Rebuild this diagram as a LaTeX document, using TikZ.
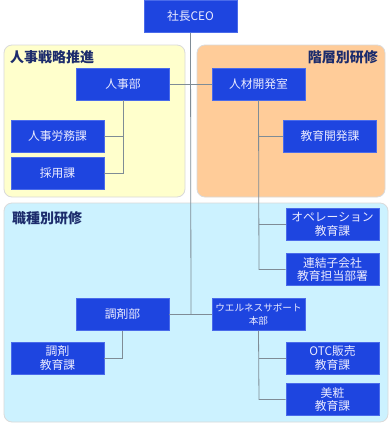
\documentclass[tikz,border=0pt]{standalone}
\usepackage{fontspec}
\setmainfont{Noto Sans CJK JP}
\definecolor{boxblue}{HTML}{1E45E0}
\definecolor{boxedge}{HTML}{4A6BEA}
\definecolor{linegray}{HTML}{7F8C96}
\definecolor{panelyellow}{HTML}{FFFFCC}
\definecolor{panelorange}{HTML}{FFCC99}
\definecolor{panelblue}{HTML}{CCF2FF}
\definecolor{paneledge}{HTML}{DADADA}
\definecolor{headnavy}{HTML}{1C2C6C}
\tikzset{
  unit/.style={draw=boxedge, line width=0.6pt, fill=boxblue, text=white!92!blue,
    minimum width=93pt, minimum height=32pt, inner sep=0pt, align=center,
    font=\fontsize{11.8}{13.3}\selectfont},
  panel/.style={draw=paneledge, line width=0.8pt, rounded corners=8pt},
  heading/.style={text=headnavy, inner sep=0pt, font=\fontsize{14}{16}\selectfont\bfseries},
  link/.style={draw=linegray, line width=0.8pt}
}
\begin{document}
\begin{tikzpicture}[x=1pt, y=-1pt]
			\useasboundingbox[fill=white] (0,0) rectangle (391,424);
			
			% Panels
			\draw[panel, fill=panelyellow] (4,45) rectangle (185,197);
			\draw[panel, fill=panelorange] (197,45) rectangle (385,197);
			\draw[panel, fill=panelblue] (4,203) rectangle (388,422);
			
			% Panel headings
			\node[heading, anchor=west] (hrsenryaku) at (10,57) {人事戦略推進};
			\node[heading, anchor=east] (kaiso) at (378,57) {階層別研修};
			\node[heading, anchor=west] (shokushu) at (12,218) {職種別研修};
			
			% Units
			\node[unit] (ceo) at (190.5,16.5) {社長CEO};
			\node[unit] (jinji) at (123,84) {人事部};
			\node[unit] (jinzai) at (258.5,84) {人材開発室};
			\node[unit] (romu) at (57.5,136.5) {人事労務課};
			\node[unit] (saiyo) at (57.5,173) {採用課};
			\node[unit] (kyoiku) at (330,136) {教育開発課};
			\node[unit] (ope) at (332.5,224.5) {オペレーション\\教育課};
			\node[unit] (renketsu) at (332.5,269.5) {連結子会社\\教育担当部署};
			\node[unit] (chozai) at (122.5,314.5) {調剤部};
			\node[unit, font=\fontsize{9.6}{13.3}\selectfont] (wellness) at (258.5,314.5) {ウエルネスサポート\\本部};
			\node[unit] (chozaikyo) at (57.5,358) {調剤\\教育課};
			\node[unit] (otc) at (332.5,358) {OTC販売\\教育課};
			\node[unit] (bisho) at (332.5,399.5) {美粧\\教育課};
			
			% Trunk and branch points
			\coordinate (trunk2) at (191,314.5);
			\coordinate (jA) at (123,136.5);
			\coordinate (jB) at (123,173);
			\coordinate (kA) at (259,136);
			\coordinate (kB) at (259,224.5);
			\coordinate (kC) at (259,269.5);
			\coordinate (cA) at (122.5,358);
			\coordinate (wA) at (259,358);
			\coordinate (wB) at (259,399.5);
			
			% Connectors
			\draw[link] (ceo.south) -- (trunk2);
			\draw[link] (jinji.east) -- (jinzai.west);
			\draw[link] (chozai.east) -- (wellness.west);
			\draw[link] (jinji.south) -- (jB) -- (saiyo.east);
			\draw[link] (jA) -- (romu.east);
			\draw[link] (jinzai.south) -- (kC) -- (renketsu.west);
			\draw[link] (kA) -- (kyoiku.west);
			\draw[link] (kB) -- (ope.west);
			\draw[link] (chozai.south) -- (cA) -- (chozaikyo.east);
			\draw[link] (wellness.south) -- (wB) -- (bisho.west);
			\draw[link] (wA) -- (otc.west);
		\end{tikzpicture}
\end{document}
